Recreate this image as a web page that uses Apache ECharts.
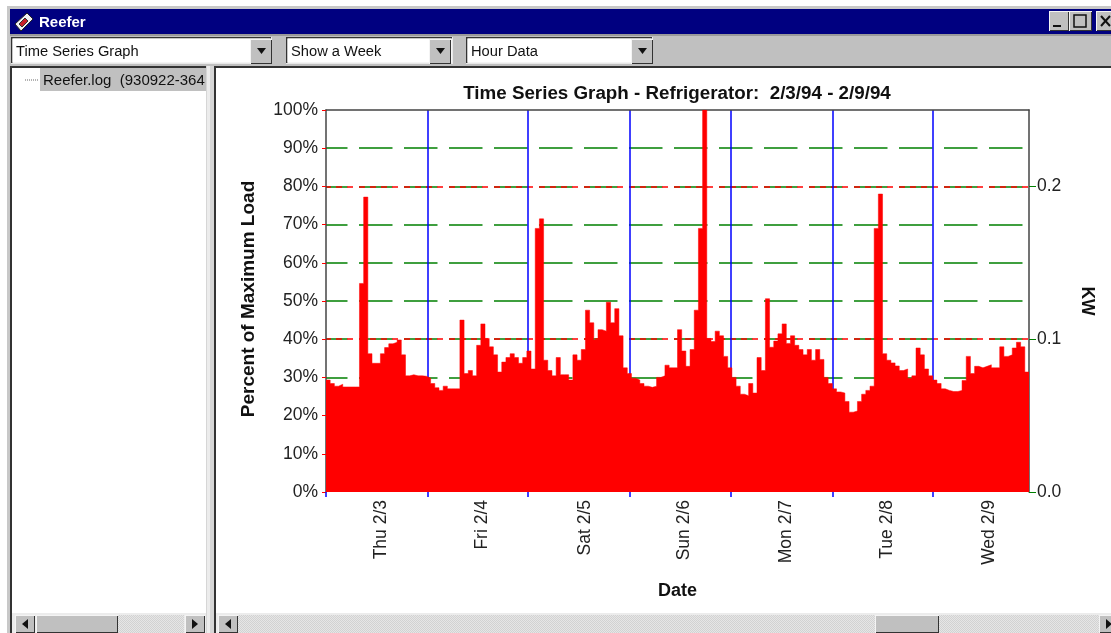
<!DOCTYPE html>
<html>
<head>
<meta charset="utf-8">
<style>html,body{margin:0;padding:0;background:#fff;overflow:hidden}#c{width:1111px;height:633px}</style>
<script src="https://cdn.jsdelivr.net/npm/echarts@6/dist/echarts.min.js"></script>
</head>
<body>
<div id="c"></div>
<script>
// Percent of maximum load, one value per hour, 2/3/94 00:00 to 2/9/94 23:00
const hourlyLoad = [
 29.3,28.4,27.7,28.2,27.5,27.5,27.5,27.5,54.6,77.2,36.2,33.7,33.7,36.2,37.8,38.8,39.2,39.8,35.9,30.4,30.7,30.4,30.4,30.3,
 29.8,28.4,27.3,26.6,27.7,27,27,27,45,31,31.8,30.4,38.4,44,40.2,38,35.9,31.4,34,35.2,36.2,35.2,33.7,35.2,
 36.9,32.2,69,71.5,34.5,31.8,30.4,35.2,30.7,30.7,29.3,35.9,34.5,37.3,47.6,44.3,39.8,42.5,42.1,49.7,44.3,48,40.9,32.5,
 31,29.8,29.3,28.4,27.7,27.4,27.7,30,30.4,33.2,32.5,32.5,42.5,36.9,32.9,37.3,47.6,69,100,40.2,39.4,42.1,40.9,35.5,
 32.5,30,27.7,25.6,25.2,28.4,25.9,35.2,31.8,50.6,37.9,39.5,41.4,44,38.9,40.9,38.4,37.3,35.9,37.3,34.5,37.3,34.7,30,
 28.4,27,26.2,25.9,23.7,20.9,21.2,23.7,25.6,26.6,27.7,69,78,36.2,34.5,33.8,33,31.8,32.2,29.8,30.4,37.7,35.9,32.2,
 30.4,29.3,28.4,27,26.6,26.3,26.3,26.6,29.2,35.5,31,32.9,32.5,32.9,33.3,32.5,32.5,38,35.5,35.9,37.7,39.2,38,31.4
];
const dayLabels = ['Thu 2/3','Fri 2/4','Sat 2/5','Sun 2/6','Mon 2/7','Tue 2/8','Wed 2/9'];
const dayLabelHours = [13.2,37.3,61.9,85.7,109.9,134.2,158.5];
const dayBoundaryHours = [0,24.25,48.25,72.5,96.75,121,145];
const kwTicks = [0,0.1,0.2];

const GREEN_DASH = [33.5,11.5];
const RED_DASH = [6,5,6,5,6,5,6,6];
const FONT = '"Liberation Sans", Arial, sans-serif';

// each hour holds its value until the next hour starts
const stepData = hourlyLoad.map((v, i) => [i, v]).concat([[hourlyLoad.length, hourlyLoad[hourlyLoad.length - 1]]]);

// window chrome helpers
const gray='#c0c0c0', navy='#000080';
function R(x,y,w,h,fill){return {type:'rect',silent:true,z:100,shape:{x,y,width:w,height:h},style:{fill}};}
function P(pts,fill,stroke){return {type:'polygon',silent:true,z:102,shape:{points:pts},style:{fill,stroke:stroke||null,lineWidth:stroke?1:0}};}
function T(x,y,text,o){o=o||{};return {type:'text',silent:true,z:103,x,y,style:Object.assign({text,fill:'#111',font:'14.7px '+FONT,textVerticalAlign:'middle',textBaseline:'middle'},o)};}
function raised(x,y,w,h){return [R(x,y,w,h,'#f4f4f4'),R(x+1,y+1,w-1,h-1,'#333'),R(x+1,y+1,w-2,h-2,'#c0c0c0')];}
function combo(x,w,label,btnX){return [
  R(x,37,w,27,'#e8e8e8'),R(x,37,w-1,1.5,'#333'),R(x,37,1.5,26,'#333'),R(x+1.5,38.5,w-3,24,'#fff'),
  T(x+5,52,label)].concat(raised(btnX,39,22,25),[P([[btnX+7,48],[btnX+16,48],[btnX+11.5,54]],'#111')]);}
function scrollBtn(x,dir){const c=x+10;return raised(x,615,20,18).concat([P(dir<0?[[c+3,619],[c+3,629],[c-3,624]]:[[c-3,619],[c-3,629],[c+3,624]],'#111')]);}

const hatch=document.createElement('canvas');hatch.width=2;hatch.height=2;
(function(){const g=hatch.getContext('2d');g.fillStyle='#e6e6e6';g.fillRect(0,0,2,2);g.fillStyle='#d2d2d2';g.fillRect(0,0,1,1);g.fillRect(1,1,1,1);})();
const hatchFill={image:hatch,repeat:'repeat'};

const chrome=[].concat(
  [R(7,6,1104,3,'#c8c8c8'),R(7,6,3,627,'#c8c8c8'),R(10,9,1101,25,navy),R(10,34,1101,2,'#9a9a9a'),R(10,36,1101,30,gray),R(10,66,1101,2,'#333')],
  // icon
  [P([[15,24],[27,13],[33,19],[21,31]],'#f2f2f2','#222'),P([[19,24],[25,18],[28,21],[22,27]],'#c8202a','#333')],
  [T(39,23,'Reefer',{fill:'#fff',font:'bold 15px '+FONT})],
  // caption buttons
  raised(1049,11,20,20),[R(1053,25,8,2,'#111')],
  raised(1069,11,23,20),[{type:'rect',silent:true,z:102,shape:{x:1074,y:15,width:12,height:12},style:{fill:'none',stroke:'#111',lineWidth:1.5}}],
  raised(1096,11,20,20),
  [{type:'line',silent:true,z:102,shape:{x1:1101,y1:16,x2:1110,y2:26},style:{stroke:'#111',lineWidth:2}},{type:'line',silent:true,z:102,shape:{x1:1110,y1:16,x2:1101,y2:26},style:{stroke:'#111',lineWidth:2}}],
  combo(11,261,'Time Series Graph',250),
  combo(286,167,'Show a Week',429),
  combo(466,187,'Hour Data',631),
  // panes and splitter
  [R(10,68,2,565,'#333'),R(206,66,8,567,'#d6d6d6'),R(207,66,3,567,'#ececec'),R(214,66,2,567,'#333')],
  [R(40,68,166,23,gray),T(43,81,'Reefer.log  (930922-364',{font:'15px '+FONT})],
  [{type:'line',silent:true,z:102,shape:{x1:25,y1:80,x2:38,y2:80},style:{stroke:'#666',lineWidth:1,lineDash:[1,1]}}],
  // scroll bars
  [R(12,613,194,20,'#ececec'),{type:'rect',silent:true,z:100,shape:{x:118,y:615,width:66,height:18},style:{fill:hatchFill}}],
  scrollBtn(15,-1),raised(36,615,82,18),scrollBtn(185,1),
  [R(216,613,895,20,'#ececec'),{type:'rect',silent:true,z:100,shape:{x:238,y:615,width:873,height:18},style:{fill:hatchFill}}],
  scrollBtn(218,-1),raised(875,615,64,18),scrollBtn(1099,1)
);

const chart=echarts.init(document.getElementById('c'),null,{renderer:'canvas'});
chart.setOption({
  animation:false,
  backgroundColor:'#fff',
  textStyle:{fontFamily:FONT},
  title:{text:'Time Series Graph - Refrigerator:  2/3/94 - 2/9/94',left:672,top:79,textAlign:'center',
    textStyle:{fontSize:18.8,fontWeight:'bold',color:'#111',fontFamily:FONT}},
  grid:{left:326,top:110,right:82,height:382,containLabel:false},
  xAxis:[
    {type:'value',min:0,max:168,position:'top',
      axisLine:{show:true,onZero:false,lineStyle:{color:'#444',width:1.5}},axisTick:{show:false},axisLabel:{show:false},splitLine:{show:false}},
    {type:'value',position:'bottom',min:0,max:168,name:'Date',nameLocation:'middle',nameGap:90,
      nameTextStyle:{fontSize:18,fontWeight:'bold',color:'#111',fontFamily:FONT},
      axisLine:{show:false},
      axisTick:{show:true,length:5,customValues:dayBoundaryHours,lineStyle:{color:'#0000ff',width:1.5}},
      splitLine:{show:true,showMinLine:false,lineStyle:{color:'#0000ff',width:1.5,type:'solid'}},
      axisLabel:{show:true,rotate:90,margin:8,fontSize:17.5,color:'#222',fontFamily:FONT,customValues:dayLabelHours,hideOverlap:false,
        formatter:v=>dayLabels[dayLabelHours.indexOf(v)]||''}}
  ],
  yAxis:[
    {type:'value',min:0,max:100,interval:10,position:'left',name:'Percent of Maximum Load',nameLocation:'middle',nameGap:68,
      nameTextStyle:{fontSize:19,fontWeight:'bold',color:'#111',fontFamily:FONT,padding:[0,0,0,4]},
      axisLine:{show:true,onZero:false,lineStyle:{color:'#444',width:1.5}},
      axisTick:{show:true,length:4,lineStyle:{color:'#ff0000',width:1}},
      axisLabel:{margin:8,fontSize:17.5,padding:[2,0,0,0],color:'#222',fontFamily:FONT,formatter:'{value}%'},
      splitLine:{show:true,showMinLine:false,showMaxLine:false,lineStyle:{color:'#008000',width:1.5,type:GREEN_DASH,dashOffset:12}}},
    {type:'value',min:0,max:0.25,position:'right',name:'KW',nameLocation:'middle',nameGap:49,nameRotate:-90,
      nameTextStyle:{fontSize:17.5,fontWeight:'bold',color:'#111',fontFamily:FONT},
      axisLine:{show:true,onZero:false,lineStyle:{color:'#444',width:1.5}},
      axisTick:{show:true,length:7,customValues:kwTicks,lineStyle:{color:'#008000',width:1}},
      axisLabel:{margin:8,fontSize:17.5,padding:[2,0,0,0],color:'#222',fontFamily:FONT,customValues:kwTicks,formatter:v=>v.toFixed(1)},
      splitLine:{show:true,showMinLine:false,lineStyle:{color:'#ff0000',width:1.5,type:RED_DASH,dashOffset:12}}}
  ],
  series:[{type:'line',xAxisIndex:1,yAxisIndex:0,data:stepData,step:'end',showSymbol:false,symbol:'none',
    lineStyle:{color:'#ff0000',width:0.5},areaStyle:{color:'#ff0000',opacity:1},silent:true,z:2}],
  graphic:{elements:chrome}
});
</script>
</body>
</html>
